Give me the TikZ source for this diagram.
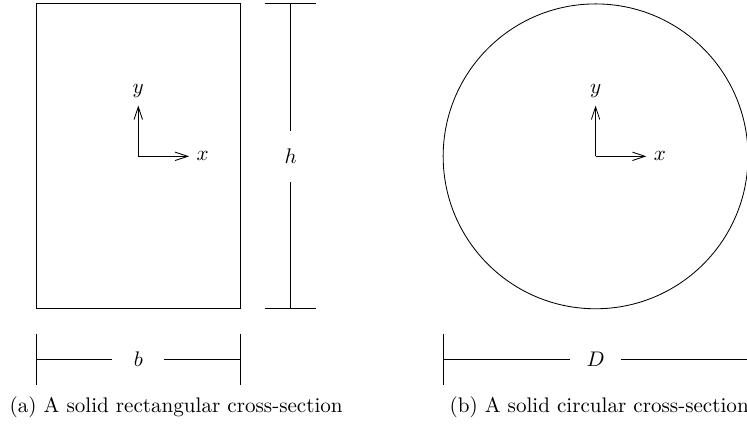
\documentclass[tikz,border=0pt]{standalone}
\usepackage{tikz}
\usetikzlibrary{positioning, arrows.meta}

\begin{document}
\begin{tikzpicture}[x=0.846cm, y=0.846cm,
            dimlabel/.style={minimum size=0.846cm, inner sep=0pt},
            axis/.style    ={-{Straight Barb[length=6pt, width=4pt]}},
            caption/.style ={anchor=west, inner sep=0pt}
        ]
            \useasboundingbox (-0.722,-2.348) rectangle (13.98,6.077);
            \clip (-0.722,-2.348) rectangle (13.98,6.077);

            % --- (a) rectangular section ---
            \draw (0,0) rectangle (4,6);
            \coordinate (ao) at (2,3);
            \draw[axis] (ao) -- ++(0,1) node[above] (ay) {$y$};
            \draw[axis] (ao) -- ++(1,0) node[right] (ax) {$x$};

            % dimension h
            \coordinate (htop) at (5,6);
            \coordinate (hbot) at (5,0);
            \node[dimlabel] (h) at (5,3) {$h$};
            \draw (4.5,6) -- (5.5,6);
            \draw (4.5,0) -- (5.5,0);
            \draw (htop) -- (h);
            \draw (h) -- (hbot);

            % dimension b
            \coordinate (bleft)  at (0,-1);
            \coordinate (bright) at (4,-1);
            \node[dimlabel] (b) at (2,-1) {$b$};
            \draw (0,-0.5) -- (0,-1.5);
            \draw (4,-0.5) -- (4,-1.5);
            \draw (bleft) -- (b);
            \draw (b) -- (bright);

            \node[caption] (capa) at (-0.54,-1.94) {(a) A solid rectangular cross-section};

            % --- (b) circular section ---
            \draw (11,3) circle (3);
            \coordinate (bo) at (11,3);
            \draw[axis] (bo) -- ++(0,1) node[above] (by) {$y$};
            \draw[axis] (bo) -- ++(1,0) node[right] (bx) {$x$};

            % dimension D
            \coordinate (dleft)  at (8,-1);
            \coordinate (dright) at (14,-1);
            \node[dimlabel] (d) at (11,-1) {$D$};
            \draw (8,-0.5) -- (8,-1.5);
            \draw (14,-0.5) -- (14,-1.5);
            \draw (dleft) -- (d);
            \draw (d) -- (dright);

            \node[caption] (capb) at (8.12,-1.94) {(b) A solid circular cross-section};

        \end{tikzpicture}
\end{document}
